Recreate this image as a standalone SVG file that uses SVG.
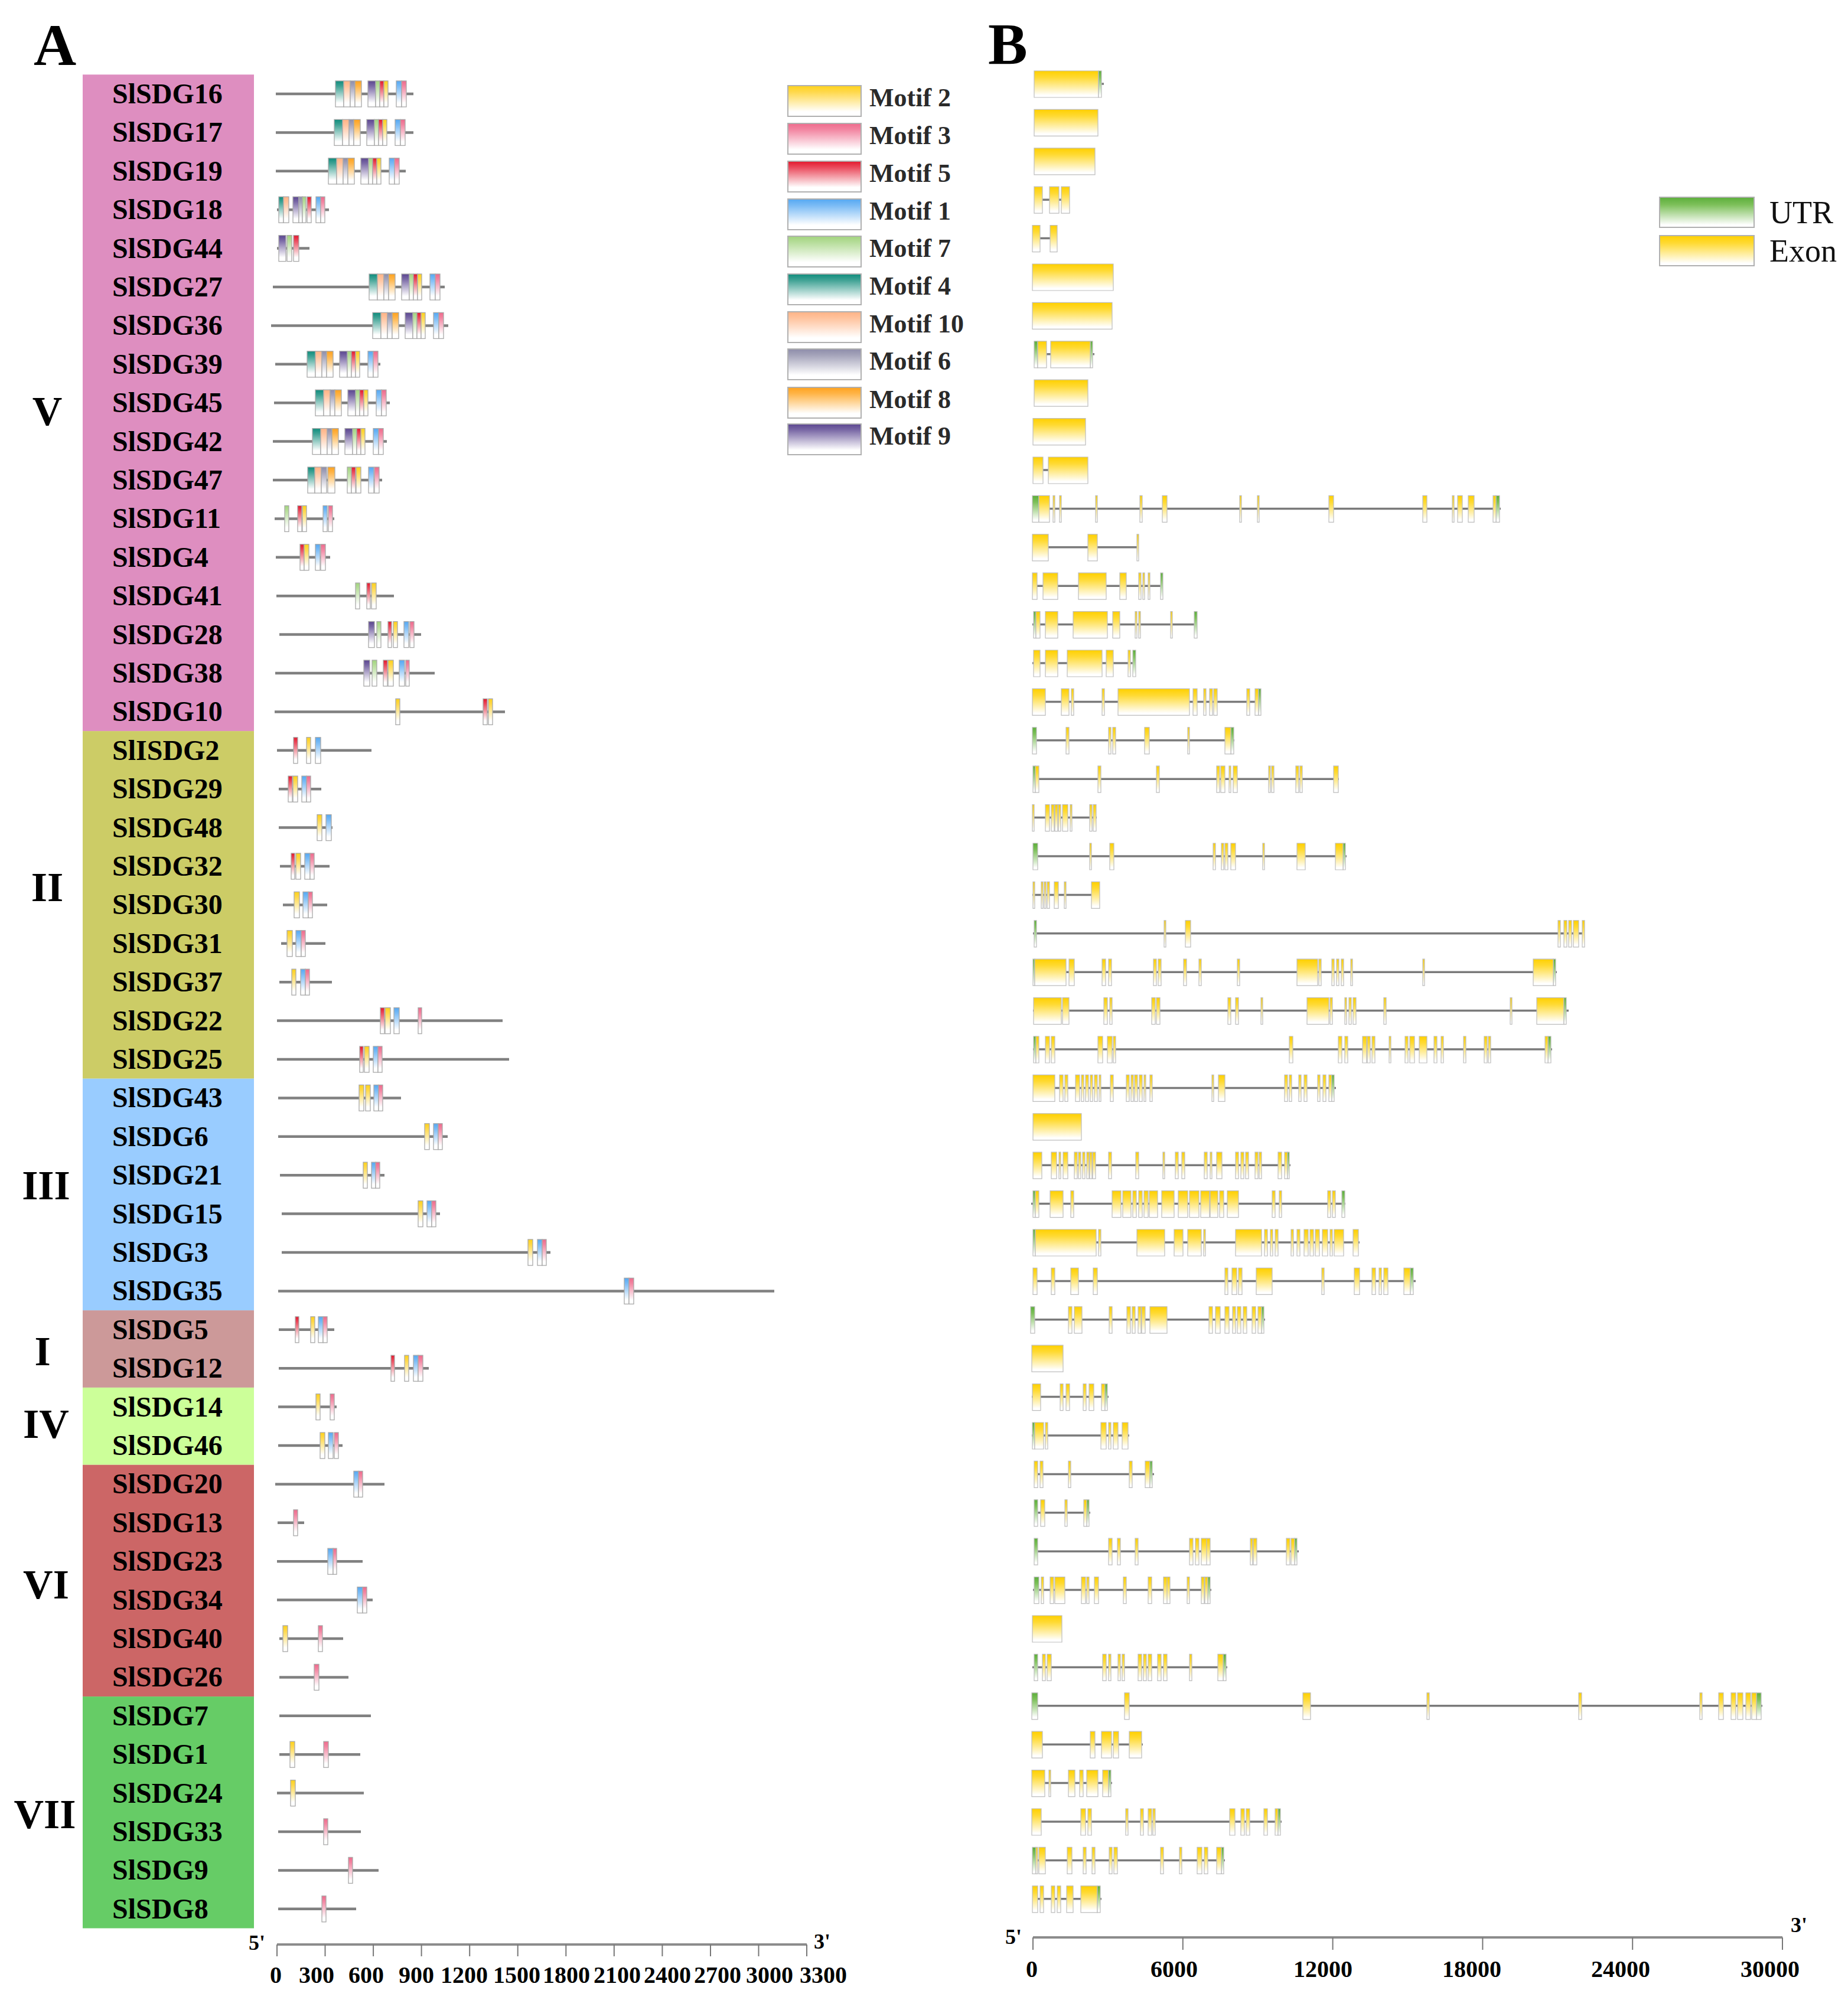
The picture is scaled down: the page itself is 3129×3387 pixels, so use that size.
<svg xmlns="http://www.w3.org/2000/svg" xmlns:xlink="http://www.w3.org/1999/xlink" width="3129" height="3387" viewBox="0 0 3129 3387">
<defs>
<linearGradient id="gE" x1="0" y1="0" x2="0" y2="1"><stop offset="0" stop-color="#FFD000"/><stop offset="0.25" stop-color="#FFDA33"/><stop offset="0.92" stop-color="#FFFFFF"/></linearGradient>
<linearGradient id="gU" x1="0" y1="0" x2="0" y2="1"><stop offset="0" stop-color="#5BAE3A"/><stop offset="0.25" stop-color="#7DC05A"/><stop offset="0.92" stop-color="#FFFFFF"/></linearGradient>
<linearGradient id="g2" x1="0" y1="0" x2="0" y2="1"><stop offset="0" stop-color="#FFD21A"/><stop offset="0.2" stop-color="#FFD84A"/><stop offset="0.85" stop-color="#FFFFFF"/></linearGradient>
<linearGradient id="g3" x1="0" y1="0" x2="0" y2="1"><stop offset="0" stop-color="#EE6A8C"/><stop offset="0.2" stop-color="#F285A1"/><stop offset="0.85" stop-color="#FFFFFF"/></linearGradient>
<linearGradient id="g5" x1="0" y1="0" x2="0" y2="1"><stop offset="0" stop-color="#E3182D"/><stop offset="0.2" stop-color="#EA4A5C"/><stop offset="0.85" stop-color="#FFFFFF"/></linearGradient>
<linearGradient id="g1" x1="0" y1="0" x2="0" y2="1"><stop offset="0" stop-color="#55A8F2"/><stop offset="0.2" stop-color="#78BAF5"/><stop offset="0.85" stop-color="#FFFFFF"/></linearGradient>
<linearGradient id="g7" x1="0" y1="0" x2="0" y2="1"><stop offset="0" stop-color="#A2D47E"/><stop offset="0.2" stop-color="#B6DD9A"/><stop offset="0.85" stop-color="#FFFFFF"/></linearGradient>
<linearGradient id="g4" x1="0" y1="0" x2="0" y2="1"><stop offset="0" stop-color="#0E8C7C"/><stop offset="0.2" stop-color="#3FA294"/><stop offset="0.85" stop-color="#FFFFFF"/></linearGradient>
<linearGradient id="g10" x1="0" y1="0" x2="0" y2="1"><stop offset="0" stop-color="#FFB386"/><stop offset="0.2" stop-color="#FFC29C"/><stop offset="0.85" stop-color="#FFFFFF"/></linearGradient>
<linearGradient id="g6" x1="0" y1="0" x2="0" y2="1"><stop offset="0" stop-color="#8E8DAA"/><stop offset="0.2" stop-color="#A4A3BA"/><stop offset="0.85" stop-color="#FFFFFF"/></linearGradient>
<linearGradient id="g8" x1="0" y1="0" x2="0" y2="1"><stop offset="0" stop-color="#FFA21E"/><stop offset="0.2" stop-color="#FFB447"/><stop offset="0.85" stop-color="#FFFFFF"/></linearGradient>
<linearGradient id="g9" x1="0" y1="0" x2="0" y2="1"><stop offset="0" stop-color="#5B4690"/><stop offset="0.2" stop-color="#7A69A6"/><stop offset="0.85" stop-color="#FFFFFF"/></linearGradient>
<style>
text{font-family:"Liberation Serif","Times New Roman",serif}
.lab{font-weight:bold;font-size:48px;fill:#000}
.grp{font-weight:bold;font-size:70px;fill:#000;text-anchor:middle}
.big{font-weight:bold;font-size:100px;fill:#000}
.leg{font-weight:bold;font-size:44px;fill:#2a2a2a}
.leg2{font-size:54px;fill:#111}
.tk{font-weight:bold;font-size:40px;fill:#000;text-anchor:middle}
.pr{font-weight:bold;font-size:36px;fill:#000}
.bar{stroke:#808080;stroke-width:4.5}
.intr{stroke:#7a7a7a;stroke-width:3.5}
.mk{stroke:#a9a9a9;stroke-width:1.3}
.lg{stroke:#b0b0b0;stroke-width:2}
.e{fill:url(#gE);stroke:#bdbdbd;stroke-width:1.2}
.u{fill:url(#gU);stroke:#bdbdbd;stroke-width:1.2}
.m1{fill:url(#g1)}.m2{fill:url(#g2)}.m3{fill:url(#g3)}.m4{fill:url(#g4)}.m5{fill:url(#g5)}
.m6{fill:url(#g6)}.m7{fill:url(#g7)}.m8{fill:url(#g8)}.m9{fill:url(#g9)}.m10{fill:url(#g10)}
.ax{stroke:#8c8c8c;stroke-width:4}
.tick{stroke:#777;stroke-width:2}
</style>
<g id="vb">
<rect class="mk m4" x="0" y="-22" width="14" height="44"/>
<rect class="mk m10" x="14" y="-22" width="11" height="44"/>
<rect class="mk m6" x="25" y="-22" width="8" height="44"/>
<rect class="mk m8" x="33" y="-22" width="11" height="44"/>
<rect class="mk m9" x="55" y="-22" width="13" height="44"/>
<rect class="mk m7" x="68" y="-22" width="7" height="44"/>
<rect class="mk m5" x="75" y="-22" width="7" height="44"/>
<rect class="mk m2" x="82" y="-22" width="7" height="44"/>
<rect class="mk m1" x="103" y="-22" width="9" height="44"/>
<rect class="mk m3" x="112" y="-22" width="8" height="44"/>
</g>
</defs>
<rect x="0" y="0" width="3129" height="3387" fill="#FFFFFF"/>

<g id="panel-labels">
<text class="big" x="57" y="110">A</text>
<text class="big" x="1673" y="108">B</text>
</g>

<g id="subfamily-column">
<rect x="140" y="126.3" width="290" height="1111.8" fill="#DE8EC0"/>
<rect x="140" y="1238.1" width="290" height="588.6" fill="#CCCC66"/>
<rect x="140" y="1826.7" width="290" height="392.4" fill="#99CCFF"/>
<rect x="140" y="2219.1" width="290" height="130.8" fill="#CC9999"/>
<rect x="140" y="2349.9" width="290" height="130.8" fill="#CCFF99"/>
<rect x="140" y="2480.7" width="290" height="392.4" fill="#CC6666"/>
<rect x="140" y="2873.1" width="290" height="392.4" fill="#66CC66"/>
<text class="grp" x="80" y="720">V</text>
<text class="grp" x="80" y="1526">II</text>
<text class="grp" x="78" y="2031">III</text>
<text class="grp" x="72" y="2312">I</text>
<text class="grp" x="78" y="2435">IV</text>
<text class="grp" x="78" y="2707">VI</text>
<text class="grp" x="76" y="3096">VII</text>
</g>

<g id="motif-legend">
<rect class="lg m2" x="1334" y="145" width="124" height="52"/><text class="leg" x="1472" y="180">Motif 2</text>
<rect class="lg m3" x="1334" y="209" width="124" height="52"/><text class="leg" x="1472" y="244">Motif 3</text>
<rect class="lg m5" x="1334" y="273" width="124" height="52"/><text class="leg" x="1472" y="308">Motif 5</text>
<rect class="lg m1" x="1334" y="337" width="124" height="52"/><text class="leg" x="1472" y="372">Motif 1</text>
<rect class="lg m7" x="1334" y="400" width="124" height="52"/><text class="leg" x="1472" y="435">Motif 7</text>
<rect class="lg m4" x="1334" y="464" width="124" height="52"/><text class="leg" x="1472" y="499">Motif 4</text>
<rect class="lg m10" x="1334" y="528" width="124" height="52"/><text class="leg" x="1472" y="563">Motif 10</text>
<rect class="lg m6" x="1334" y="591" width="124" height="52"/><text class="leg" x="1472" y="626">Motif 6</text>
<rect class="lg m8" x="1334" y="656" width="124" height="52"/><text class="leg" x="1472" y="691">Motif 8</text>
<rect class="lg m9" x="1334" y="718" width="124" height="52"/><text class="leg" x="1472" y="753">Motif 9</text>
</g>

<g id="structure-legend">
<rect class="lg" fill="url(#gU)" x="2810" y="334" width="160" height="51"/><text class="leg2" x="2996" y="378">UTR</text>
<rect class="lg" fill="url(#gE)" x="2810" y="399" width="160" height="51"/><text class="leg2" x="2996" y="443">Exon</text>
</g>

<g id="genes">
<g id="SlSDG16" transform="translate(0,159)"><text class="lab" x="190" y="16">SlSDG16</text>
<line class="bar" x1="467" y1="0" x2="700" y2="0"/><use href="#vb" x="568"/>
<line class="intr" x1="1751" y1="-17" x2="1869" y2="-17"/><path class="e" d="M1751-39h109v45h-109z"/><path class="u" d="M1860-39h5v45h-5z"/></g>

<g id="SlSDG17" transform="translate(0,224.4)"><text class="lab" x="190" y="16">SlSDG17</text>
<line class="bar" x1="467" y1="0" x2="700" y2="0"/><use href="#vb" x="566"/>
<path class="e" d="M1751-39h108v45h-108z"/></g>

<g id="SlSDG19" transform="translate(0,289.8)"><text class="lab" x="190" y="16">SlSDG19</text>
<line class="bar" x1="467" y1="0" x2="687" y2="0"/><use href="#vb" x="556"/>
<path class="e" d="M1751-39h103v45h-103z"/></g>

<g id="SlSDG18" transform="translate(0,355.2)"><text class="lab" x="190" y="16">SlSDG18</text>
<line class="bar" x1="469" y1="0" x2="557" y2="0"/>
<rect class="mk m4" x="472" y="-22" width="8" height="44"/><rect class="mk m10" x="480" y="-22" width="9" height="44"/><rect class="mk m9" x="496" y="-22" width="10" height="44"/><rect class="mk m6" x="506" y="-22" width="6" height="44"/><rect class="mk m7" x="512" y="-22" width="6" height="44"/><rect class="mk m5" x="520" y="-22" width="7" height="44"/><rect class="mk m1" x="535" y="-22" width="8" height="44"/><rect class="mk m3" x="543" y="-22" width="7" height="44"/>
<line class="intr" x1="1751" y1="-17" x2="1811" y2="-17"/><path class="e" d="M1751-39h14v45h-14zM1777-39h16v45h-16zM1797-39h14v45h-14z"/></g>

<g id="SlSDG44" transform="translate(0,420.6)"><text class="lab" x="190" y="16">SlSDG44</text>
<line class="bar" x1="469" y1="0" x2="524" y2="0"/>
<rect class="mk m9" x="472" y="-22" width="12" height="44"/><rect class="mk m7" x="486" y="-22" width="8" height="44"/><rect class="mk m5" x="497" y="-22" width="9" height="44"/>
<line class="intr" x1="1748" y1="-17" x2="1790" y2="-17"/><path class="e" d="M1748-39h13v45h-13zM1778-39h12v45h-12z"/></g>

<g id="SlSDG27" transform="translate(0,486)"><text class="lab" x="190" y="16">SlSDG27</text>
<line class="bar" x1="462" y1="0" x2="753" y2="0"/><use href="#vb" x="625"/>
<path class="e" d="M1748-39h137v45h-137z"/></g>

<g id="SlSDG36" transform="translate(0,551.4)"><text class="lab" x="190" y="16">SlSDG36</text>
<line class="bar" x1="459" y1="0" x2="759" y2="0"/><use href="#vb" x="631"/>
<path class="e" d="M1748-39h135v45h-135z"/></g>

<g id="SlSDG39" transform="translate(0,616.8)"><text class="lab" x="190" y="16">SlSDG39</text>
<line class="bar" x1="466" y1="0" x2="644" y2="0"/><use href="#vb" x="520"/>
<line class="intr" x1="1751" y1="-17" x2="1853" y2="-17"/><path class="u" d="M1751-39h6v45h-6zM1846-39h4v45h-4z"/><path class="e" d="M1757-39h15v45h-15zM1779-39h67v45h-67z"/></g>

<g id="SlSDG45" transform="translate(0,682.2)"><text class="lab" x="190" y="16">SlSDG45</text>
<line class="bar" x1="464" y1="0" x2="660" y2="0"/><use href="#vb" x="534"/>
<path class="e" d="M1751-39h91v45h-91z"/></g>

<g id="SlSDG42" transform="translate(0,747.6)"><text class="lab" x="190" y="16">SlSDG42</text>
<line class="bar" x1="462" y1="0" x2="655" y2="0"/><use href="#vb" x="529"/>
<path class="e" d="M1749-39h89v45h-89z"/></g>

<g id="SlSDG47" transform="translate(0,813)"><text class="lab" x="190" y="16">SlSDG47</text>
<line class="bar" x1="462" y1="0" x2="647" y2="0"/>
<rect class="mk m4" x="521" y="-22" width="12" height="44"/><rect class="mk m10" x="533" y="-22" width="11" height="44"/><rect class="mk m6" x="544" y="-22" width="9" height="44"/><rect class="mk m8" x="555" y="-22" width="12" height="44"/><rect class="mk m7" x="588" y="-22" width="7" height="44"/><rect class="mk m5" x="595" y="-22" width="7" height="44"/><rect class="mk m2" x="603" y="-22" width="8" height="44"/><rect class="mk m1" x="624" y="-22" width="9" height="44"/><rect class="mk m3" x="634" y="-22" width="8" height="44"/>
<line class="intr" x1="1749" y1="-17" x2="1842" y2="-17"/><path class="e" d="M1749-39h17v45h-17zM1775-39h67v45h-67z"/></g>

<g id="SlSDG11" transform="translate(0,878.4)"><text class="lab" x="190" y="16">SlSDG11</text>
<line class="bar" x1="465" y1="0" x2="566" y2="0"/>
<rect class="mk m7" x="482" y="-22" width="7" height="44"/><rect class="mk m5" x="504" y="-22" width="7" height="44"/><rect class="mk m2" x="512" y="-22" width="7" height="44"/><rect class="mk m1" x="547" y="-22" width="7" height="44"/><rect class="mk m3" x="556" y="-22" width="7" height="44"/>
<line class="intr" x1="1748" y1="-17" x2="2541" y2="-17"/><path class="u" d="M1748-39h11v45h-11zM2533-39h6v45h-6z"/>
<path class="e" d="M1759-39h18v45h-18zM1783-39h3v45h-3zM1794-39h3v45h-3zM1855-39h3v45h-3zM1930-39h4v45h-4zM1968-39h8v45h-8zM2099-39h3v45h-3zM2129-39h3v45h-3zM2250-39h8v45h-8zM2409-39h7v45h-7zM2459-39h3v45h-3zM2468-39h8v45h-8zM2486-39h10v45h-10zM2528-39h5v45h-5z"/></g>

<g id="SlSDG4" transform="translate(0,943.8)"><text class="lab" x="190" y="16">SlSDG4</text>
<line class="bar" x1="467" y1="0" x2="559" y2="0"/>
<rect class="mk m5" x="508" y="-22" width="7" height="44"/><rect class="mk m2" x="515" y="-22" width="8" height="44"/><rect class="mk m1" x="534" y="-22" width="8" height="44"/><rect class="mk m3" x="543" y="-22" width="8" height="44"/>
<line class="intr" x1="1748" y1="-17" x2="1928" y2="-17"/><path class="e" d="M1748-39h27v45h-27zM1842-39h16v45h-16zM1925-39h3v45h-3z"/></g>

<g id="SlSDG41" transform="translate(0,1009.2)"><text class="lab" x="190" y="16">SlSDG41</text>
<line class="bar" x1="468" y1="0" x2="667" y2="0"/>
<rect class="mk m7" x="602" y="-22" width="7" height="44"/><rect class="mk m5" x="621" y="-22" width="6" height="44"/><rect class="mk m2" x="629" y="-22" width="8" height="44"/>
<line class="intr" x1="1748" y1="-17" x2="1969" y2="-17"/><path class="e" d="M1748-39h8v45h-8zM1766-39h25v45h-25zM1826-39h47v45h-47zM1896-39h11v45h-11zM1928-39h4v45h-4zM1935-39h3v45h-3zM1944-39h3v45h-3z"/><path class="u" d="M1965-39h4v45h-4z"/></g>

<g id="SlSDG28" transform="translate(0,1074.6)"><text class="lab" x="190" y="16">SlSDG28</text>
<line class="bar" x1="473" y1="0" x2="713" y2="0"/>
<rect class="mk m9" x="624" y="-22" width="10" height="44"/><rect class="mk m7" x="638" y="-22" width="7" height="44"/><rect class="mk m5" x="657" y="-22" width="6" height="44"/><rect class="mk m2" x="666" y="-22" width="7" height="44"/><rect class="mk m1" x="684" y="-22" width="8" height="44"/><rect class="mk m3" x="694" y="-22" width="7" height="44"/>
<line class="intr" x1="1748" y1="-17" x2="2027" y2="-17"/><path class="u" d="M1750-39h4v45h-4zM2022-39h5v45h-5z"/><path class="e" d="M1754-39h7v45h-7zM1770-39h21v45h-21zM1817-39h58v45h-58zM1884-39h12v45h-12zM1922-39h3v45h-3zM1928-39h3v45h-3zM1982-39h3v45h-3z"/></g>

<g id="SlSDG38" transform="translate(0,1140)"><text class="lab" x="190" y="16">SlSDG38</text>
<line class="bar" x1="466" y1="0" x2="736" y2="0"/>
<rect class="mk m9" x="616" y="-22" width="10" height="44"/><rect class="mk m7" x="630" y="-22" width="8" height="44"/><rect class="mk m5" x="649" y="-22" width="7" height="44"/><rect class="mk m2" x="657" y="-22" width="9" height="44"/><rect class="mk m1" x="676" y="-22" width="9" height="44"/><rect class="mk m3" x="687" y="-22" width="6" height="44"/>
<line class="intr" x1="1748" y1="-17" x2="1923" y2="-17"/><path class="e" d="M1750-39h11v45h-11zM1770-39h21v45h-21zM1807-39h59v45h-59zM1873-39h12v45h-12zM1910-39h4v45h-4z"/><path class="u" d="M1918-39h5v45h-5z"/></g>

<g id="SlSDG10" transform="translate(0,1205.4)"><text class="lab" x="190" y="16">SlSDG10</text>
<line class="bar" x1="465" y1="0" x2="855" y2="0"/>
<rect class="mk m2" x="670" y="-22" width="7" height="44"/><rect class="mk m5" x="818" y="-22" width="7" height="44"/><rect class="mk m2" x="827" y="-22" width="7" height="44"/>
<line class="intr" x1="1748" y1="-17" x2="2135" y2="-17"/><path class="e" d="M1748-39h22v45h-22zM1797-39h13v45h-13zM1814-39h4v45h-4zM1866-39h4v45h-4zM1893-39h121v45h-121zM2020-39h7v45h-7zM2038-39h4v45h-4zM2048-39h5v45h-5zM2055-39h6v45h-6zM2111-39h5v45h-5zM2125-39h6v45h-6z"/><path class="u" d="M2131-39h4v45h-4z"/></g>

<g id="SlISDG2" transform="translate(0,1270.8)"><text class="lab" x="190" y="16">SlISDG2</text>
<line class="bar" x1="469" y1="0" x2="629" y2="0"/>
<rect class="mk m5" x="497" y="-22" width="7" height="44"/><rect class="mk m2" x="519" y="-22" width="7" height="44"/><rect class="mk m1" x="534" y="-22" width="9" height="44"/>
<line class="intr" x1="1748" y1="-17" x2="2090" y2="-17"/><path class="u" d="M1748-39h7v45h-7zM2084-39h5v45h-5z"/><path class="e" d="M1805-39h5v45h-5zM1877-39h4v45h-4zM1884-39h5v45h-5zM1938-39h8v45h-8zM2011-39h3v45h-3zM2074-39h10v45h-10z"/></g>

<g id="SlSDG29" transform="translate(0,1336.2)"><text class="lab" x="190" y="16">SlSDG29</text>
<line class="bar" x1="472" y1="0" x2="544" y2="0"/>
<rect class="mk m5" x="488" y="-22" width="7" height="44"/><rect class="mk m2" x="496" y="-22" width="8" height="44"/><rect class="mk m1" x="511" y="-22" width="8" height="44"/><rect class="mk m3" x="519" y="-22" width="7" height="44"/>
<line class="intr" x1="1749" y1="-17" x2="2267" y2="-17"/><path class="u" d="M1749-39h4v45h-4z"/><path class="e" d="M1753-39h6v45h-6zM1859-39h5v45h-5zM1958-39h5v45h-5zM2060-39h5v45h-5zM2067-39h7v45h-7zM2081-39h3v45h-3zM2088-39h7v45h-7zM2148-39h3v45h-3zM2153-39h4v45h-4zM2194-39h5v45h-5zM2201-39h4v45h-4zM2258-39h8v45h-8z"/></g>

<g id="SlSDG48" transform="translate(0,1401.6)"><text class="lab" x="190" y="16">SlSDG48</text>
<line class="bar" x1="472" y1="0" x2="563" y2="0"/>
<rect class="mk m2" x="537" y="-22" width="8" height="44"/><rect class="mk m1" x="552" y="-22" width="9" height="44"/>
<line class="intr" x1="1748" y1="-17" x2="1857" y2="-17"/><path class="e" d="M1748-39h3v45h-3zM1770-39h7v45h-7zM1780-39h5v45h-5zM1786-39h5v45h-5zM1792-39h4v45h-4zM1799-39h9v45h-9zM1812-39h3v45h-3zM1845-39h4v45h-4zM1851-39h5v45h-5z"/></g>

<g id="SlSDG32" transform="translate(0,1467)"><text class="lab" x="190" y="16">SlSDG32</text>
<line class="bar" x1="474" y1="0" x2="558" y2="0"/>
<rect class="mk m5" x="493" y="-22" width="6" height="44"/><rect class="mk m2" x="501" y="-22" width="8" height="44"/><rect class="mk m1" x="516" y="-22" width="9" height="44"/><rect class="mk m3" x="525" y="-22" width="7" height="44"/>
<line class="intr" x1="1749" y1="-17" x2="2280" y2="-17"/><path class="u" d="M1749-39h8v45h-8zM2274-39h4v45h-4z"/><path class="e" d="M1845-39h3v45h-3zM1879-39h7v45h-7zM2054-39h4v45h-4zM2068-39h4v45h-4zM2074-39h5v45h-5zM2084-39h8v45h-8zM2138-39h3v45h-3zM2196-39h14v45h-14zM2261-39h13v45h-13z"/></g>

<g id="SlSDG30" transform="translate(0,1532.4)"><text class="lab" x="190" y="16">SlSDG30</text>
<line class="bar" x1="479" y1="0" x2="554" y2="0"/>
<rect class="mk m2" x="498" y="-22" width="9" height="44"/><rect class="mk m1" x="513" y="-22" width="9" height="44"/><rect class="mk m3" x="522" y="-22" width="7" height="44"/>
<line class="intr" x1="1748" y1="-17" x2="1862" y2="-17"/><path class="e" d="M1749-39h3v45h-3zM1763-39h3v45h-3zM1768-39h3v45h-3zM1773-39h4v45h-4zM1785-39h7v45h-7zM1802-39h3v45h-3zM1848-39h14v45h-14z"/></g>

<g id="SlSDG31" transform="translate(0,1597.8)"><text class="lab" x="190" y="16">SlSDG31</text>
<line class="bar" x1="476" y1="0" x2="551" y2="0"/>
<rect class="mk m2" x="486" y="-22" width="9" height="44"/><rect class="mk m1" x="501" y="-22" width="9" height="44"/><rect class="mk m3" x="510" y="-22" width="7" height="44"/>
<line class="intr" x1="1749" y1="-17" x2="2683" y2="-17"/><path class="u" d="M1751-39h4v45h-4z"/><path class="e" d="M1971-39h3v45h-3zM2007-39h9v45h-9zM2638-39h4v45h-4zM2648-39h5v45h-5zM2656-39h5v45h-5zM2664-39h9v45h-9zM2679-39h4v45h-4z"/></g>

<g id="SlSDG37" transform="translate(0,1663.2)"><text class="lab" x="190" y="16">SlSDG37</text>
<line class="bar" x1="473" y1="0" x2="562" y2="0"/>
<rect class="mk m2" x="494" y="-22" width="7" height="44"/><rect class="mk m1" x="509" y="-22" width="8" height="44"/><rect class="mk m3" x="517" y="-22" width="7" height="44"/>
<line class="intr" x1="1749" y1="-17" x2="2636" y2="-17"/><path class="u" d="M1749-39h3v45h-3zM2630-39h4v45h-4z"/><path class="e" d="M1752-39h53v45h-53zM1810-39h9v45h-9zM1866-39h6v45h-6zM1877-39h5v45h-5zM1953-39h5v45h-5zM1961-39h5v45h-5zM2004-39h5v45h-5zM2030-39h4v45h-4zM2095-39h4v45h-4zM2196-39h35v45h-35zM2233-39h4v45h-4zM2255-39h4v45h-4zM2263-39h4v45h-4zM2271-39h4v45h-4zM2287-39h3v45h-3zM2409-39h3v45h-3zM2596-39h34v45h-34z"/></g>

<g id="SlSDG22" transform="translate(0,1728.6)"><text class="lab" x="190" y="16">SlSDG22</text>
<line class="bar" x1="469" y1="0" x2="851" y2="0"/>
<rect class="mk m5" x="644" y="-22" width="7" height="44"/><rect class="mk m2" x="652" y="-22" width="9" height="44"/><rect class="mk m1" x="667" y="-22" width="9" height="44"/><rect class="mk m3" x="708" y="-22" width="6" height="44"/>
<line class="intr" x1="1749" y1="-17" x2="2656" y2="-17"/><path class="e" d="M1750-39h47v45h-47zM1799-39h11v45h-11zM1869-39h6v45h-6zM1879-39h4v45h-4zM1950-39h6v45h-6zM1958-39h6v45h-6zM2079-39h5v45h-5zM2092-39h5v45h-5zM2135-39h3v45h-3zM2213-39h37v45h-37zM2252-39h4v45h-4zM2277-39h3v45h-3zM2284-39h4v45h-4zM2291-39h5v45h-5zM2343-39h4v45h-4zM2557-39h3v45h-3zM2602-39h46v45h-46z"/><path class="u" d="M2648-39h4v45h-4z"/></g>

<g id="SlSDG25" transform="translate(0,1794)"><text class="lab" x="190" y="16">SlSDG25</text>
<line class="bar" x1="469" y1="0" x2="862" y2="0"/>
<rect class="mk m5" x="609" y="-22" width="6" height="44"/><rect class="mk m2" x="617" y="-22" width="8" height="44"/><rect class="mk m1" x="632" y="-22" width="8" height="44"/><rect class="mk m3" x="640" y="-22" width="7" height="44"/>
<line class="intr" x1="1749" y1="-17" x2="2628" y2="-17"/><path class="u" d="M1750-39h4v45h-4zM2621-39h5v45h-5z"/><path class="e" d="M1754-39h5v45h-5zM1770-39h7v45h-7zM1780-39h6v45h-6zM1859-39h8v45h-8zM1875-39h8v45h-8zM1885-39h4v45h-4zM2183-39h6v45h-6zM2266-39h6v45h-6zM2277-39h5v45h-5zM2307-39h7v45h-7zM2315-39h5v45h-5zM2323-39h5v45h-5zM2352-39h3v45h-3zM2379-39h5v45h-5zM2387-39h8v45h-8zM2403-39h13v45h-13zM2428-39h5v45h-5zM2440-39h4v45h-4zM2478-39h4v45h-4zM2513-39h5v45h-5zM2520-39h4v45h-4zM2616-39h5v45h-5z"/></g>

<g id="SlSDG43" transform="translate(0,1859.4)"><text class="lab" x="190" y="16">SlSDG43</text>
<line class="bar" x1="471" y1="0" x2="679" y2="0"/>
<rect class="mk m2" x="608" y="-22" width="8" height="44"/><rect class="mk m2" x="619" y="-22" width="8" height="44"/><rect class="mk m1" x="633" y="-22" width="8" height="44"/><rect class="mk m3" x="641" y="-22" width="7" height="44"/>
<line class="intr" x1="1749" y1="-17" x2="2262" y2="-17"/><path class="e" d="M1749-39h37v45h-37zM1794-39h6v45h-6zM1803-39h5v45h-5zM1821-39h7v45h-7zM1831-39h4v45h-4zM1838-39h5v45h-5zM1846-39h4v45h-4zM1853-39h5v45h-5zM1861-39h3v45h-3zM1880-39h5v45h-5zM1907-39h5v45h-5zM1915-39h4v45h-4zM1921-39h5v45h-5zM1929-39h5v45h-5zM1937-39h3v45h-3zM1947-39h4v45h-4zM2052-39h3v45h-3zM2063-39h11v45h-11zM2175-39h5v45h-5zM2183-39h4v45h-4zM2199-39h4v45h-4zM2208-39h5v45h-5zM2231-39h4v45h-4zM2240-39h5v45h-5zM2250-39h5v45h-5z"/><path class="u" d="M2255-39h4v45h-4z"/></g>

<g id="SlSDG6" transform="translate(0,1924.8)"><text class="lab" x="190" y="16">SlSDG6</text>
<line class="bar" x1="471" y1="0" x2="758" y2="0"/>
<rect class="mk m2" x="719" y="-22" width="8" height="44"/><rect class="mk m1" x="734" y="-22" width="8" height="44"/><rect class="mk m3" x="742" y="-22" width="7" height="44"/>
<path class="e" d="M1749-39h82v45h-82z"/></g>

<g id="SlSDG21" transform="translate(0,1990.2)"><text class="lab" x="190" y="16">SlSDG21</text>
<line class="bar" x1="474" y1="0" x2="651" y2="0"/>
<rect class="mk m2" x="615" y="-22" width="7" height="44"/><rect class="mk m1" x="629" y="-22" width="7" height="44"/><rect class="mk m3" x="636" y="-22" width="7" height="44"/>
<line class="intr" x1="1749" y1="-17" x2="2185" y2="-17"/><path class="e" d="M1749-39h15v45h-15zM1780-39h9v45h-9zM1793-39h3v45h-3zM1800-39h8v45h-8zM1819-39h5v45h-5zM1826-39h4v45h-4zM1833-39h4v45h-4zM1840-39h4v45h-4zM1845-39h4v45h-4zM1850-39h5v45h-5zM1877-39h5v45h-5zM1923-39h5v45h-5zM1969-39h3v45h-3zM1990-39h5v45h-5zM2001-39h5v45h-5zM2039-39h5v45h-5zM2049-39h3v45h-3zM2060-39h9v45h-9zM2092-39h5v45h-5zM2101-39h5v45h-5zM2109-39h5v45h-5zM2125-39h5v45h-5zM2132-39h4v45h-4zM2164-39h6v45h-6zM2175-39h5v45h-5z"/><path class="u" d="M2180-39h3v45h-3z"/></g>

<g id="SlSDG15" transform="translate(0,2055.6)"><text class="lab" x="190" y="16">SlSDG15</text>
<line class="bar" x1="477" y1="0" x2="745" y2="0"/>
<rect class="mk m2" x="708" y="-22" width="8" height="44"/><rect class="mk m1" x="723" y="-22" width="8" height="44"/><rect class="mk m3" x="731" y="-22" width="7" height="44"/>
<line class="intr" x1="1746" y1="-17" x2="2278" y2="-17"/><path class="u" d="M1749-39h4v45h-4zM2272-39h5v45h-5z"/><path class="e" d="M1753-39h6v45h-6zM1778-39h22v45h-22zM1813-39h5v45h-5zM1883-39h15v45h-15zM1901-39h14v45h-14zM1918-39h6v45h-6zM1928-39h6v45h-6zM1937-39h7v45h-7zM1946-39h14v45h-14zM1967-39h21v45h-21zM1995-39h16v45h-16zM2014-39h16v45h-16zM2033-39h15v45h-15zM2049-39h13v45h-13zM2065-39h7v45h-7zM2078-39h19v45h-19zM2154-39h5v45h-5zM2166-39h4v45h-4zM2248-39h5v45h-5zM2256-39h5v45h-5z"/></g>

<g id="SlSDG3" transform="translate(0,2121)"><text class="lab" x="190" y="16">SlSDG3</text>
<line class="bar" x1="477" y1="0" x2="932" y2="0"/>
<rect class="mk m2" x="894" y="-22" width="8" height="44"/><rect class="mk m1" x="910" y="-22" width="8" height="44"/><rect class="mk m3" x="918" y="-22" width="7" height="44"/>
<line class="intr" x1="1749" y1="-17" x2="2302" y2="-17"/><path class="u" d="M1749-39h4v45h-4z"/><path class="e" d="M1753-39h103v45h-103zM1860-39h4v45h-4zM1925-39h47v45h-47zM1988-39h15v45h-15zM2011-39h23v45h-23zM2038-39h3v45h-3zM2092-39h44v45h-44zM2141-39h5v45h-5zM2151-39h4v45h-4zM2159-39h5v45h-5zM2186-39h4v45h-4zM2196-39h5v45h-5zM2208-39h7v45h-7zM2218-39h6v45h-6zM2227-39h7v45h-7zM2239-39h9v45h-9zM2252-39h4v45h-4zM2259-39h16v45h-16zM2291-39h9v45h-9z"/></g>

<g id="SlSDG35" transform="translate(0,2186.4)"><text class="lab" x="190" y="16">SlSDG35</text>
<line class="bar" x1="471" y1="0" x2="1311" y2="0"/>
<rect class="mk m1" x="1057" y="-22" width="8" height="44"/><rect class="mk m3" x="1065" y="-22" width="8" height="44"/>
<line class="intr" x1="1749" y1="-17" x2="2397" y2="-17"/><path class="e" d="M1749-39h7v45h-7zM1780-39h6v45h-6zM1813-39h13v45h-13zM1851-39h7v45h-7zM2074-39h5v45h-5zM2086-39h8v45h-8zM2097-39h6v45h-6zM2127-39h27v45h-27zM2238-39h4v45h-4zM2293-39h9v45h-9zM2323-39h6v45h-6zM2335-39h4v45h-4zM2343-39h7v45h-7zM2377-39h11v45h-11z"/><path class="u" d="M2388-39h5v45h-5z"/></g>

<g id="SlSDG5" transform="translate(0,2251.8)"><text class="lab" x="190" y="16">SlSDG5</text>
<line class="bar" x1="472" y1="0" x2="566" y2="0"/>
<rect class="mk m5" x="500" y="-22" width="6" height="44"/><rect class="mk m2" x="526" y="-22" width="7" height="44"/><rect class="mk m1" x="539" y="-22" width="8" height="44"/><rect class="mk m3" x="547" y="-22" width="7" height="44"/>
<line class="intr" x1="1745" y1="-17" x2="2142" y2="-17"/><path class="u" d="M1745-39h7v45h-7zM2136-39h4v45h-4z"/><path class="e" d="M1809-39h6v45h-6zM1819-39h13v45h-13zM1878-39h5v45h-5zM1908-39h6v45h-6zM1917-39h5v45h-5zM1927-39h5v45h-5zM1933-39h6v45h-6zM1947-39h29v45h-29zM2047-39h6v45h-6zM2058-39h8v45h-8zM2074-39h7v45h-7zM2087-39h5v45h-5zM2095-39h6v45h-6zM2105-39h6v45h-6zM2120-39h6v45h-6zM2130-39h6v45h-6z"/></g>

<g id="SlSDG12" transform="translate(0,2317.2)"><text class="lab" x="190" y="16">SlSDG12</text>
<line class="bar" x1="472" y1="0" x2="726" y2="0"/>
<rect class="mk m5" x="662" y="-22" width="6" height="44"/><rect class="mk m2" x="685" y="-22" width="7" height="44"/><rect class="mk m1" x="700" y="-22" width="8" height="44"/><rect class="mk m3" x="708" y="-22" width="8" height="44"/>
<path class="e" d="M1747-39h53v45h-53z"/></g>

<g id="SlSDG14" transform="translate(0,2382.6)"><text class="lab" x="190" y="16">SlSDG14</text>
<line class="bar" x1="471" y1="0" x2="570" y2="0"/>
<rect class="mk m2" x="535" y="-22" width="7" height="44"/><rect class="mk m3" x="559" y="-22" width="7" height="44"/>
<line class="intr" x1="1747" y1="-17" x2="1877" y2="-17"/><path class="e" d="M1748-39h14v45h-14zM1795-39h5v45h-5zM1805-39h6v45h-6zM1834-39h5v45h-5zM1844-39h8v45h-8zM1865-39h6v45h-6z"/><path class="u" d="M1871-39h4v45h-4z"/></g>

<g id="SlSDG46" transform="translate(0,2448)"><text class="lab" x="190" y="16">SlSDG46</text>
<line class="bar" x1="471" y1="0" x2="580" y2="0"/>
<rect class="mk m2" x="542" y="-22" width="8" height="44"/><rect class="mk m1" x="556" y="-22" width="8" height="44"/><rect class="mk m3" x="566" y="-22" width="7" height="44"/>
<line class="intr" x1="1747" y1="-17" x2="1912" y2="-17"/><path class="u" d="M1748-39h4v45h-4z"/><path class="e" d="M1752-39h15v45h-15zM1770-39h4v45h-4zM1864-39h9v45h-9zM1877-39h4v45h-4zM1885-39h8v45h-8zM1900-39h10v45h-10z"/></g>

<g id="SlSDG20" transform="translate(0,2513.4)"><text class="lab" x="190" y="16">SlSDG20</text>
<line class="bar" x1="466" y1="0" x2="651" y2="0"/>
<rect class="mk m1" x="599" y="-22" width="8" height="44"/><rect class="mk m3" x="607" y="-22" width="7" height="44"/>
<line class="intr" x1="1751" y1="-17" x2="1954" y2="-17"/><path class="e" d="M1751-39h6v45h-6zM1761-39h5v45h-5zM1809-39h4v45h-4zM1912-39h5v45h-5zM1939-39h8v45h-8z"/><path class="u" d="M1947-39h4v45h-4z"/></g>

<g id="SlSDG13" transform="translate(0,2578.8)"><text class="lab" x="190" y="16">SlSDG13</text>
<line class="bar" x1="470" y1="0" x2="515" y2="0"/>
<rect class="mk m3" x="497" y="-22" width="7" height="44"/>
<line class="intr" x1="1751" y1="-17" x2="1846" y2="-17"/><path class="u" d="M1751-39h6v45h-6zM1840-39h4v45h-4z"/><path class="e" d="M1762-39h7v45h-7zM1803-39h4v45h-4zM1835-39h5v45h-5z"/></g>

<g id="SlSDG23" transform="translate(0,2644.2)"><text class="lab" x="190" y="16">SlSDG23</text>
<line class="bar" x1="469" y1="0" x2="614" y2="0"/>
<rect class="mk m1" x="555" y="-22" width="9" height="44"/><rect class="mk m3" x="564" y="-22" width="6" height="44"/>
<line class="intr" x1="1751" y1="-17" x2="2199" y2="-17"/><path class="u" d="M1751-39h6v45h-6zM2192-39h4v45h-4z"/><path class="e" d="M1877-39h6v45h-6zM1892-39h5v45h-5zM1922-39h5v45h-5zM2014-39h6v45h-6zM2024-39h6v45h-6zM2034-39h9v45h-9zM2043-39h6v45h-6zM2117-39h4v45h-4zM2122-39h6v45h-6zM2178-39h6v45h-6zM2186-39h6v45h-6z"/></g>

<g id="SlSDG34" transform="translate(0,2709.6)"><text class="lab" x="190" y="16">SlSDG34</text>
<line class="bar" x1="469" y1="0" x2="631" y2="0"/>
<rect class="mk m1" x="605" y="-22" width="9" height="44"/><rect class="mk m3" x="614" y="-22" width="7" height="44"/>
<line class="intr" x1="1749" y1="-17" x2="2051" y2="-17"/><path class="u" d="M1751-39h8v45h-8zM2045-39h4v45h-4z"/><path class="e" d="M1763-39h4v45h-4zM1778-39h6v45h-6zM1786-39h17v45h-17zM1831-39h7v45h-7zM1840-39h4v45h-4zM1853-39h7v45h-7zM1902-39h5v45h-5zM1944-39h6v45h-6zM1970-39h6v45h-6zM1976-39h5v45h-5zM2010-39h4v45h-4zM2034-39h5v45h-5zM2040-39h5v45h-5z"/></g>

<g id="SlSDG40" transform="translate(0,2775)"><text class="lab" x="190" y="16">SlSDG40</text>
<line class="bar" x1="473" y1="0" x2="581" y2="0"/>
<rect class="mk m2" x="479" y="-22" width="8" height="44"/><rect class="mk m3" x="539" y="-22" width="7" height="44"/>
<path class="e" d="M1748-39h50v45h-50z"/></g>

<g id="SlSDG26" transform="translate(0,2840.4)"><text class="lab" x="190" y="16">SlSDG26</text>
<line class="bar" x1="473" y1="0" x2="590" y2="0"/>
<rect class="mk m3" x="532" y="-22" width="8" height="44"/>
<line class="intr" x1="1748" y1="-17" x2="2078" y2="-17"/><path class="u" d="M1751-39h6v45h-6zM2071-39h5v45h-5z"/><path class="e" d="M1765-39h5v45h-5zM1773-39h7v45h-7zM1867-39h6v45h-6zM1877-39h4v45h-4zM1893-39h4v45h-4zM1900-39h4v45h-4zM1927-39h6v45h-6zM1936-39h5v45h-5zM1944-39h6v45h-6zM1960-39h6v45h-6zM1970-39h6v45h-6zM2014-39h4v45h-4zM2062-39h9v45h-9z"/></g>

<g id="SlSDG7" transform="translate(0,2905.8)"><text class="lab" x="190" y="16">SlSDG7</text>
<line class="bar" x1="473" y1="0" x2="628" y2="0"/>
<line class="intr" x1="1747" y1="-17" x2="2984" y2="-17"/><path class="u" d="M1747-39h10v45h-10zM2974-39h8v45h-8z"/><path class="e" d="M1904-39h8v45h-8zM2206-39h13v45h-13zM2416-39h4v45h-4zM2673-39h5v45h-5zM2878-39h4v45h-4zM2910-39h8v45h-8zM2931-39h8v45h-8zM2942-39h9v45h-9zM2956-39h8v45h-8zM2966-39h8v45h-8z"/></g>

<g id="SlSDG1" transform="translate(0,2971.2)"><text class="lab" x="190" y="16">SlSDG1</text>
<line class="bar" x1="473" y1="0" x2="610" y2="0"/>
<rect class="mk m2" x="491" y="-22" width="8" height="44"/><rect class="mk m3" x="548" y="-22" width="8" height="44"/>
<line class="intr" x1="1747" y1="-17" x2="1935" y2="-17"/><path class="e" d="M1747-39h18v45h-18zM1846-39h8v45h-8zM1865-39h17v45h-17zM1885-39h9v45h-9zM1912-39h21v45h-21z"/></g>

<g id="SlSDG24" transform="translate(0,3036.6)"><text class="lab" x="190" y="16">SlSDG24</text>
<line class="bar" x1="469" y1="0" x2="616" y2="0"/>
<rect class="mk m2" x="492" y="-22" width="8" height="44"/>
<line class="intr" x1="1747" y1="-17" x2="1883" y2="-17"/><path class="e" d="M1747-39h22v45h-22zM1776-39h3v45h-3zM1809-39h11v45h-11zM1828-39h6v45h-6zM1840-39h19v45h-19zM1867-39h10v45h-10z"/><path class="u" d="M1877-39h4v45h-4z"/></g>

<g id="SlSDG33" transform="translate(0,3102)"><text class="lab" x="190" y="16">SlSDG33</text>
<line class="bar" x1="471" y1="0" x2="611" y2="0"/>
<rect class="mk m3" x="548" y="-22" width="7" height="44"/>
<line class="intr" x1="1747" y1="-17" x2="2170" y2="-17"/><path class="e" d="M1747-39h16v45h-16zM1830-39h8v45h-8zM1842-39h6v45h-6zM1906-39h4v45h-4zM1931-39h5v45h-5zM1944-39h6v45h-6zM1952-39h4v45h-4zM2082-39h9v45h-9zM2101-39h6v45h-6zM2110-39h6v45h-6zM2140-39h6v45h-6zM2159-39h5v45h-5z"/><path class="u" d="M2164-39h4v45h-4z"/></g>

<g id="SlSDG9" transform="translate(0,3167.4)"><text class="lab" x="190" y="16">SlSDG9</text>
<line class="bar" x1="471" y1="0" x2="641" y2="0"/>
<rect class="mk m3" x="590" y="-22" width="7" height="44"/>
<line class="intr" x1="1748" y1="-17" x2="2074" y2="-17"/><path class="u" d="M1748-39h6v45h-6zM2068-39h4v45h-4z"/><path class="e" d="M1754-39h3v45h-3zM1759-39h11v45h-11zM1807-39h8v45h-8zM1834-39h5v45h-5zM1849-39h5v45h-5zM1878-39h5v45h-5zM1886-39h6v45h-6zM1965-39h5v45h-5zM1997-39h4v45h-4zM2027-39h8v45h-8zM2039-39h6v45h-6zM2060-39h8v45h-8z"/></g>

<g id="SlSDG8" transform="translate(0,3232.8)"><text class="lab" x="190" y="16">SlSDG8</text>
<line class="bar" x1="471" y1="0" x2="603" y2="0"/>
<rect class="mk m3" x="545" y="-22" width="7" height="44"/>
<line class="intr" x1="1748" y1="-17" x2="1865" y2="-17"/><path class="e" d="M1748-39h9v45h-9zM1761-39h6v45h-6zM1780-39h6v45h-6zM1790-39h6v45h-6zM1806-39h11v45h-11zM1830-39h28v45h-28z"/><path class="u" d="M1858-39h5v45h-5z"/></g>
</g>

<g id="axis-A">
<line class="ax" x1="469" y1="3293" x2="1366" y2="3293"/>
<line class="tick" x1="469" y1="3293" x2="469" y2="3313"/>
<line class="tick" x1="550.5" y1="3293" x2="550.5" y2="3313"/>
<line class="tick" x1="632.1" y1="3293" x2="632.1" y2="3313"/>
<line class="tick" x1="713.6" y1="3293" x2="713.6" y2="3313"/>
<line class="tick" x1="795.2" y1="3293" x2="795.2" y2="3313"/>
<line class="tick" x1="876.7" y1="3293" x2="876.7" y2="3313"/>
<line class="tick" x1="958.3" y1="3293" x2="958.3" y2="3313"/>
<line class="tick" x1="1039.8" y1="3293" x2="1039.8" y2="3313"/>
<line class="tick" x1="1121.4" y1="3293" x2="1121.4" y2="3313"/>
<line class="tick" x1="1203" y1="3293" x2="1203" y2="3313"/>
<line class="tick" x1="1284.5" y1="3293" x2="1284.5" y2="3313"/>
<line class="tick" x1="1366" y1="3293" x2="1366" y2="3313"/>
<text class="pr" x="421" y="3302">5'</text>
<text class="pr" x="1378" y="3300">3'</text>
<text class="tk" x="467" y="3358">0</text>
<text class="tk" x="536" y="3358">300</text>
<text class="tk" x="620" y="3358">600</text>
<text class="tk" x="705" y="3358">900</text>
<text class="tk" x="786" y="3358">1200</text>
<text class="tk" x="875" y="3358">1500</text>
<text class="tk" x="959" y="3358">1800</text>
<text class="tk" x="1045" y="3358">2100</text>
<text class="tk" x="1130" y="3358">2400</text>
<text class="tk" x="1215" y="3358">2700</text>
<text class="tk" x="1303" y="3358">3000</text>
<text class="tk" x="1394" y="3358">3300</text>
</g>

<g id="axis-B">
<line class="ax" x1="1749" y1="3281" x2="3018" y2="3281"/>
<line class="tick" x1="1749" y1="3281" x2="1749" y2="3302"/>
<line class="tick" x1="2002.8" y1="3281" x2="2002.8" y2="3302"/>
<line class="tick" x1="2256.6" y1="3281" x2="2256.6" y2="3302"/>
<line class="tick" x1="2510.4" y1="3281" x2="2510.4" y2="3302"/>
<line class="tick" x1="2764.2" y1="3281" x2="2764.2" y2="3302"/>
<line class="tick" x1="3018" y1="3281" x2="3018" y2="3302"/>
<text class="pr" x="1702" y="3292">5'</text>
<text class="pr" x="3032" y="3272">3'</text>
<text class="tk" x="1747" y="3348">0</text>
<text class="tk" x="1988" y="3348">6000</text>
<text class="tk" x="2240" y="3348">12000</text>
<text class="tk" x="2492" y="3348">18000</text>
<text class="tk" x="2744" y="3348">24000</text>
<text class="tk" x="2997" y="3348">30000</text>
</g>
</svg>
